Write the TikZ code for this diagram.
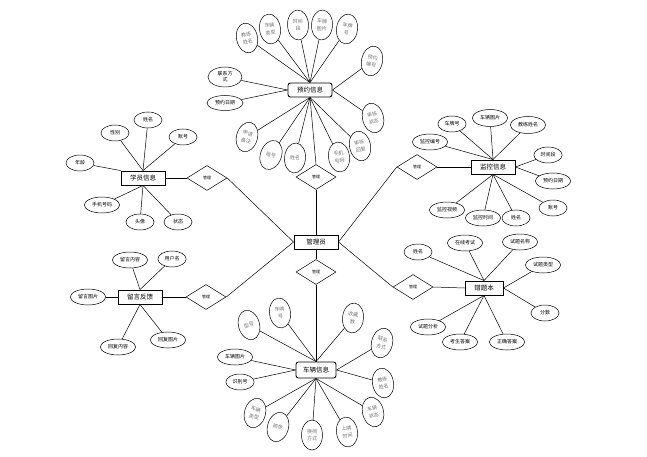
\documentclass[tikz,border=0pt]{standalone}
\usepackage{fontspec}
\newfontfamily\cjk{Noto Sans CJK SC}
\usetikzlibrary{%
    shapes.geometric,
    backgrounds,
}
\tikzset{%
    base/.style = {
        draw,
        fill=white,
        line width=0.5pt,
        inner xsep=2.5pt,
        inner ysep=1pt,
        font=\cjk\fontsize{5}{6}\selectfont,
    },
    entity/.style = {
        base,
        rectangle,
        minimum width=44,
        minimum height=14,
        line width=0.9pt,
        font=\cjk\fontsize{6.5}{7}\selectfont,
    },
    rentity/.style = {
        entity,
        rounded corners=2.5pt,
    },
    rel/.style = {
        base,
        diamond,
        inner sep=0pt,
        minimum width=40,
        minimum height=25,
        font=\cjk\fontsize{4}{5}\selectfont,
    },
    attr/.style = {
        base,
        ellipse,
        minimum width=28,
        minimum height=16,
    },
    vattr/.style = {
        base,
        ellipse,
        align=center,
        inner sep=0.5pt,
        minimum width=21,
        minimum height=30,
        text=black!55,
        font=\cjk\fontsize{5}{7.5}\selectfont,
    },
    link/.style = {
        line width=0.5pt,
    },
}

\begin{document}
\begin{tikzpicture}[x=1pt,y=-1pt]
    \useasboundingbox (0,0) rectangle (647,457);

    % entities and relations
    \node [entity] (adm) at (316,242) {管理员};
    \node [rentity] (res) at (310,90) {预约信息};
    \node [entity] (stu) at (143,178) {学员信息};
    \node [entity] (msg) at (140,297) {留言反馈};
    \node [entity] (mon) at (493,167) {监控信息};
    \node [entity, minimum width=38] (err) at (484,288) {错题本};
    \node [rentity, minimum width=40, minimum height=16] (car) at (316,370) {车辆信息};
    \node [rel] (rres) at (316,177) {管理};
    \node [rel] (rcar) at (316,272) {管理};
    \node [rel] (rstu) at (207,178) {管理};
    \node [rel] (rmsg) at (206,297) {管理};
    \node [rel] (rmon) at (417,167) {管理};
    \node [rel] (rerr) at (413,287) {管理};

    % 预约信息
    \node [vattr, rotate=12] (res1) at (247,38) {教练\\姓名};
    \node [vattr, rotate=8] (res2) at (270,29) {车辆\\类型};
    \node [vattr, rotate=3] (res3) at (298,25) {时间\\段};
    \node [vattr, rotate=-3] (res4) at (322,25) {车牌\\图片};
    \node [vattr, rotate=-8] (res5) at (347,29) {车牌\\号};
    \node [vattr, rotate=-12] (res6) at (372,61) {预约\\编号};
    \node [vattr, rotate=14] (res7) at (373,118) {审核\\状态};
    \node [attr, align=center, inner ysep=0pt, minimum width=34, minimum height=20] (res8) at (225,77) {联系方\\式};
    \node [attr, minimum width=36, minimum height=15] (res9) at (225,103) {预约日期};
    \node [vattr, rotate=-15] (res10) at (247,137) {申请\\备注};
    \node [vattr, rotate=-20] (res11) at (271,155) {账号};
    \node [vattr, rotate=-5] (res12) at (295,158) {姓名};
    \node [vattr, rotate=8] (res13) at (339,157) {手机\\号码};
    \node [vattr, rotate=12] (res14) at (360,146) {审核\\回复};

    % 学员信息
    \node [attr] (stu1) at (148,120) {姓名};
    \node [attr] (stu2) at (115,133) {性别};
    \node [attr] (stu3) at (183,137) {账号};
    \node [attr] (stu4) at (80,163) {年龄};
    \node [attr] (stu5) at (102,205) {手机号码};
    \node [attr] (stu6) at (140,222) {头像};
    \node [attr] (stu7) at (178,222) {状态};

    % 留言反馈
    \node [attr] (msg1) at (130,260) {留言内容};
    \node [attr] (msg2) at (172,259) {用户名};
    \node [attr] (msg3) at (88,297) {留言图片};
    \node [attr] (msg4) at (118,347) {回复内容};
    \node [attr] (msg5) at (168,340) {回复图片};

    % 监控信息
    \node [attr] (mon1) at (452,124) {车牌号};
    \node [attr, minimum height=17] (mon2) at (490,118) {车辆图片};
    \node [attr, minimum height=17] (mon3) at (528,125) {教练姓名};
    \node [attr] (mon4) at (430,142) {监控编号};
    \node [attr] (mon5) at (548,155) {时间段};
    \node [attr] (mon6) at (553,181) {预约日期};
    \node [attr] (mon7) at (447,210) {监控视频};
    \node [attr] (mon8) at (483,218) {监控时间};
    \node [attr] (mon9) at (516,218) {姓名};
    \node [attr] (mon10) at (553,208) {账号};

    % 错题本
    \node [attr] (err1) at (418,252) {姓名};
    \node [attr] (err2) at (465,243) {在线考试};
    \node [attr] (err3) at (520,242) {试题名称};
    \node [attr] (err4) at (543,265) {试题类型};
    \node [attr] (err5) at (545,313) {分数};
    \node [attr] (err6) at (428,327) {试题分析};
    \node [attr] (err7) at (460,342) {考生答案};
    \node [attr] (err8) at (507,342) {正确答案};

    % 车辆信息
    \node [vattr, rotate=15] (car1) at (249,325) {型号};
    \node [vattr, rotate=8] (car2) at (280,313) {车牌\\号};
    \node [vattr, rotate=-6] (car3) at (353,318) {收藏\\数};
    \node [vattr, rotate=-14] (car4) at (382,343) {联系\\方式};
    \node [attr] (car5) at (235,357) {车辆图片};
    \node [attr] (car6) at (240,382) {识别号};
    \node [vattr, rotate=10] (car7) at (383,383) {教练\\姓名};
    \node [vattr, rotate=-15] (car8) at (255,413) {车辆\\类型};
    \node [vattr, rotate=-15] (car9) at (278,427) {颜色};
    \node [vattr] (car10) at (312,435) {换挡\\方式};
    \node [vattr, rotate=8] (car11) at (347,432) {上牌\\时间};
    \node [vattr, rotate=14] (car12) at (373,412) {车辆\\状态};

    \begin{pgfonlayer}{background}
        \foreach \a in {res1,res2,res3,res4,res5} \draw [link] (res.north) -- (\a);
        \foreach \a in {res6,res7} \draw [link] (res.east) -- (\a);
        \foreach \a in {res8,res9} \draw [link] (res.west) -- (\a);
        \foreach \a in {res10,res11,res12,res13,res14} \draw [link] (res.south) -- (\a);
        \foreach \a in {stu1,stu2,stu3} \draw [link] (stu.north) -- (\a);
        \foreach \a in {stu5,stu6,stu7} \draw [link] (stu.south) -- (\a);
        \draw [link] (stu.north west) -- (stu4);
        \foreach \a in {msg1,msg2} \draw [link] (msg.north) -- (\a);
        \foreach \a in {msg4,msg5} \draw [link] (msg.south) -- (\a);
        \draw [link] (msg.west) -- (msg3);
        \foreach \a in {mon1,mon2,mon3,mon4} \draw [link] (mon.north) -- (\a);
        \foreach \a in {mon5,mon6} \draw [link] (mon.east) -- (\a);
        \foreach \a in {mon7,mon8,mon9,mon10} \draw [link] (mon.south) -- (\a);
        \foreach \a in {err1,err2,err3} \draw [link] (err.north) -- (\a);
        \foreach \a in {err4,err5} \draw [link] (err.east) -- (\a);
        \foreach \a in {err6,err7,err8} \draw [link] (err.south) -- (\a);
        \foreach \a in {car1,car2,car3} \draw [link] (car.north) -- (\a);
        \foreach \a in {car4,car7} \draw [link] (car.east) -- (\a);
        \foreach \a in {car5,car6} \draw [link] (car.west) -- (\a);
        \foreach \a in {car8,car9,car10,car11,car12} \draw [link] (car.south) -- (\a);
    \end{pgfonlayer}

    % relations to the administrator
    \draw [link] (res.south) -- (rres.north);
    \draw [link] (rres.south) -- (adm.north);
    \draw [link] (adm.south) -- (rcar.north);
    \draw [link] (rcar.south) -- (car.north);
    \draw [link] (stu.east) -- (rstu.west);
    \draw [link] (rstu.east) -- (adm.west);
    \draw [link] (msg.east) -- (rmsg.west);
    \draw [link] (rmsg.east) -- (adm.west);
    \draw [link] (mon.west) -- (rmon.east);
    \draw [link] (rmon.west) -- (adm.east);
    \draw [link] (err.west) -- (rerr.east);
    \draw [link] (rerr.west) -- (adm.east);
\end{tikzpicture}
\end{document}
